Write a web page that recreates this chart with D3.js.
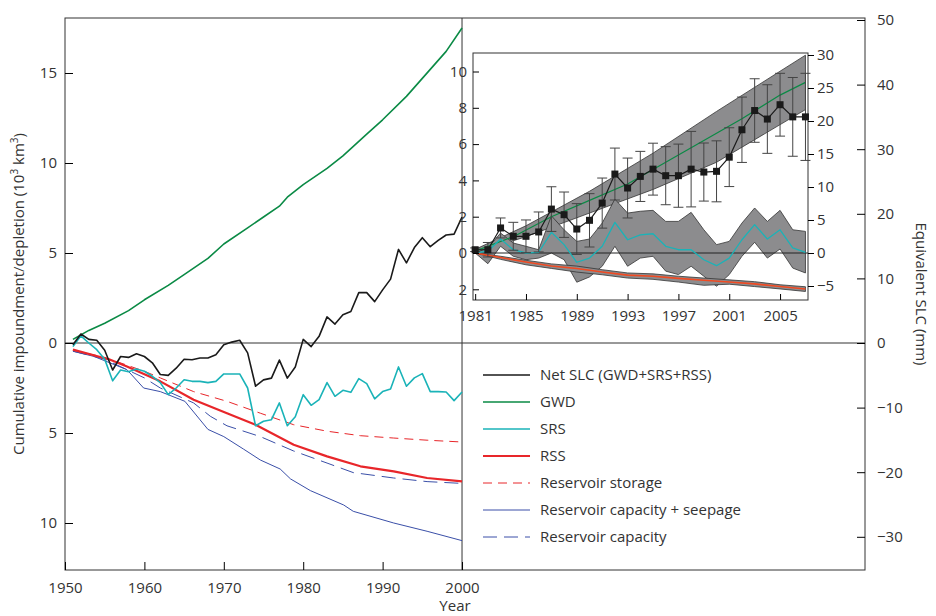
<!DOCTYPE html>
<html><head><meta charset="utf-8">
<script src="https://cdn.jsdelivr.net/npm/d3@7"></script>
<style>body{margin:0;background:#fff}text{font-family:"Open Sans",sans-serif;fill:#333}</style>
</head><body><svg id="c" width="936" height="616"></svg>
<script>
// ---------- DATA ----------
const years = d3.range(1951, 2001);
const netSLC = [-0.1,0.5,0.2,0.15,-0.4,-1.5,-0.75,-0.8,-0.6,-0.75,-1.1,-1.75,-1.8,-1.4,-0.9,-0.93,-0.83,-0.83,-0.65,-0.1,0.05,0.15,-0.55,-2.4,-2.05,-1.95,-0.95,-1.95,-1.33,0.2,-0.2,0.37,1.45,1.05,1.57,1.75,2.8,2.8,2.3,2.95,3.55,5.2,4.45,5.3,5.85,5.35,5.7,6.0,6.05,7.0];
const srs = [-0.2,0.4,0,-0.37,-0.9,-2.1,-1.5,-1.6,-1.45,-1.57,-1.85,-2.2,-2.87,-2.5,-2.04,-2.13,-2.13,-2.2,-2.13,-1.72,-1.72,-1.72,-2.5,-4.6,-4.35,-4.26,-3.33,-4.6,-4.1,-2.87,-3.46,-3.15,-2.2,-2.96,-2.63,-2.74,-1.98,-2.26,-3.1,-2.7,-2.55,-1.33,-2.4,-1.94,-1.7,-2.7,-2.7,-2.72,-3.2,-2.72];
const gwdYears = [1951,1953,1955,1958,1960,1963,1965,1968,1970,1973,1975,1977,1978,1980,1983,1985,1988,1990,1993,1995,1998,2000];
const gwd = [0.2,0.7,1.1,1.8,2.4,3.2,3.8,4.7,5.5,6.4,7.0,7.6,8.1,8.8,9.7,10.4,11.6,12.4,13.7,14.7,16.2,17.5];
const rssYears = [1951,1955.7,1957.8,1962,1966.2,1970.4,1974,1978.8,1983,1987.2,1991.4,1995.6,2000];
const rss = [-0.37,-0.93,-1.3,-2.13,-3.15,-3.9,-4.54,-5.65,-6.3,-6.85,-7.13,-7.5,-7.69];
const storageYears = [1951,1955,1960,1962,1966.2,1970.4,1974.6,1978.8,1983,1987.2,1991.4,1995.6,2000];
const resStorage = [-0.4,-0.8,-1.57,-1.94,-2.7,-3.24,-3.9,-4.54,-4.9,-5.15,-5.28,-5.4,-5.5];
const capYears = [1951,1955,1960,1962,1966.2,1968.3,1970.4,1974.6,1978.8,1983,1986.3,1991.4,1995.6,2000];
const resCapacity = [-0.45,-0.9,-1.94,-2.5,-3.33,-4.07,-4.6,-5.2,-6.0,-6.67,-7.2,-7.5,-7.7,-7.8];
const seepYears = [1951,1953.6,1957.8,1959.9,1962,1965.1,1968,1970,1972.5,1974.6,1977.1,1978.4,1980.9,1985.1,1986.3,1991.4,1995.6,2000];
const resCapSeep = [-0.46,-0.74,-1.48,-2.5,-2.7,-3.24,-4.8,-5.2,-5.9,-6.5,-7.0,-7.55,-8.2,-9.0,-9.35,-10.0,-10.46,-10.98];

const insetYears = d3.range(1981, 2008);
const insetNet = [0.18,0.18,1.38,0.92,0.92,1.16,2.42,2.11,1.32,1.8,2.75,4.35,3.58,4.22,4.62,4.26,4.26,4.62,4.46,4.5,5.28,6.79,7.85,7.38,8.17,7.5,7.5];
const insetErr = [0.1,0.4,0.55,0.77,0.9,1.1,1.23,1.25,1.4,1.47,1.38,1.43,1.65,1.38,1.43,1.6,1.74,2.08,1.6,1.68,1.62,1.8,1.75,1.89,1.73,2.17,2.4];
const insetSrs = [0,0.1,0.77,0.18,0,0.04,1.14,0.46,-0.51,-0.28,0.37,1.69,0.73,1.0,1.06,0.37,0.18,0.18,-0.37,-0.7,-0.28,0.73,1.56,0.77,1.28,0.28,0.04];
const insetSrsHi = [0,0.28,1.1,0.55,0.37,0.18,2.05,1.28,0.64,0.77,1.65,2.97,2.2,2.3,2.35,1.74,1.74,2.24,1.28,0.46,0.64,1.65,2.48,1.74,2.35,1.28,1.19];
const insetSrsLo = [0,-0.59,0.37,-0.18,-0.37,-0.28,0,-0.37,-1.61,-1.32,-0.73,0.37,-0.73,-0.28,-0.18,-1.0,-1.19,-0.73,-1.28,-1.83,-1.19,-0.18,0.59,-0.28,0.22,-0.83,-1.1];
const insetGwdYears = [1981,1984,1987,1990,1993,1996,1999,2002,2005,2007];
const insetGwd = [0.1,0.9,2.0,2.9,3.8,5.0,6.2,7.4,8.7,9.4];
const insetGwdBandYears = [1981,1985,1990,1995,2000,2007];
const insetGwdHi = [0.2,1.5,3.4,5.5,7.8,10.9];
const insetGwdLo = [0.0,0.9,2.2,3.5,5.0,7.9];
const insetRssYears = [1981,1983,1985,1987,1989,1991,1993,1995,1997,1999,2001,2003,2005,2007];
const insetRss = [0,-0.25,-0.5,-0.72,-0.85,-1.05,-1.22,-1.28,-1.4,-1.5,-1.6,-1.7,-1.85,-1.98];
const insetRssHi = [0,-0.18,-0.4,-0.6,-0.72,-0.92,-1.1,-1.15,-1.28,-1.38,-1.48,-1.58,-1.75,-1.86];
const insetRssLo = [0,-0.35,-0.65,-0.85,-1.05,-1.2,-1.38,-1.45,-1.6,-1.78,-1.72,-1.85,-1.98,-2.12];

const leftTicks = [15,10,5,0,-5,-10];
const rightTicks = [50,40,30,20,10,0,-10,-20,-30];
const xTicks = [1950,1960,1970,1980,1990,2000];
const insetLeftTicks = [10,8,6,4,2,0,-2];
const insetRightTicks = [30,25,20,15,10,5,0,-5];
const insetXTicks = [1981,1985,1989,1993,1997,2001,2005];
const legendItems = [
 {label:"Net SLC (GWD+SRS+RSS)", color:"#1a1a1a", w:1.6, dash:null},
 {label:"GWD", color:"#0a8a45", w:1.6, dash:null},
 {label:"SRS", color:"#1ab3b8", w:1.6, dash:null},
 {label:"RSS", color:"#e8262a", w:2.2, dash:null},
 {label:"Reservoir storage", color:"#e8262a", w:1, dash:"9,6"},
 {label:"Reservoir capacity + seepage", color:"#3a4fa8", w:1, dash:null},
 {label:"Reservoir capacity", color:"#3a4fa8", w:1, dash:"14,7"}];

// ---------- CHART ----------
const svg = d3.select("#c");
const L=65,R=865,T=18,B=570;
const x = d3.scaleLinear().domain([1950,2050.75]).range([L,R]);
const y = d3.scaleLinear().domain([0,15]).range([343,73]);
const yR = d3.scaleLinear().domain([0,50]).range([343,20]);
const ax = g=>g.selectAll("text").style("font-size","15px").style("fill","#333");

svg.append("rect").attr("x",L).attr("y",T).attr("width",R-L).attr("height",B-T).attr("fill","none").attr("stroke","#333").attr("stroke-width",1);
svg.append("line").attr("x1",L).attr("x2",R).attr("y1",y(0)).attr("y2",y(0)).attr("stroke","#333");
svg.append("line").attr("x1",x(2000)).attr("x2",x(2000)).attr("y1",T).attr("y2",B).attr("stroke","#333");

const gl=svg.append("g").attr("transform",`translate(${L},0)`).call(d3.axisRight(y).tickValues(leftTicks).tickSize(8).tickFormat(d=>Math.abs(d)));
gl.select(".domain").remove(); gl.selectAll("text").attr("x",-8).attr("text-anchor","end"); ax(gl);
const gr=svg.append("g").attr("transform",`translate(${R},0)`).call(d3.axisLeft(yR).tickValues(rightTicks).tickSize(8).tickFormat(d=>d<0?"−"+(-d):d));
gr.select(".domain").remove(); gr.selectAll("text").attr("x",12).attr("text-anchor","start"); ax(gr);
const gx=svg.append("g").attr("transform",`translate(0,${B})`).call(d3.axisTop(x).tickValues(xTicks).tickSize(8).tickFormat(d3.format("d")));
gx.select(".domain").remove(); gx.selectAll("text").attr("y",18).attr("dy","0.32em"); ax(gx);

svg.append("text").attr("transform","translate(24,294) rotate(-90)").attr("text-anchor","middle").style("font-size","15px").html("Cumulative impoundment/depletion (10<tspan dy='-6' font-size='10'>3</tspan><tspan dy='6'> km</tspan><tspan dy='-6' font-size='10'>3</tspan><tspan dy='6'>)</tspan>");
svg.append("text").attr("transform","translate(916,294) rotate(90)").attr("text-anchor","middle").style("font-size","15px").text("Equivalent SLC (mm)");
svg.append("text").attr("x",455).attr("y",611).attr("text-anchor","middle").style("font-size","15px").text("Year");

const line=(xs,ys,sx,sy)=>d3.line().x((d,i)=>sx(xs[i])).y(d=>sy(d))(ys);
const draw=(xs,ys,c,w,dash,sx=x,sy=y)=>svg.append("path").attr("d",line(xs,ys,sx,sy)).attr("fill","none").attr("stroke",c).attr("stroke-width",w).attr("stroke-dasharray",dash).attr("stroke-linejoin","round");
draw(seepYears,resCapSeep,"#3a4fa8",1,null);
draw(capYears,resCapacity,"#3a4fa8",1,"14,7");
draw(storageYears,resStorage,"#e8262a",1,"9,6");
draw(rssYears,rss,"#e8262a",2.2,null);
draw(years,srs,"#1ab3b8",1.6,null);
draw(gwdYears,gwd,"#0a8a45",1.6,null);
draw(years,netSLC,"#1a1a1a",1.6,null);

// legend
const lg=svg.append("g");
legendItems.forEach((d,i)=>{
  const yy=375+i*27;
  lg.append("line").attr("x1",483).attr("x2",530).attr("y1",yy).attr("y2",yy).attr("stroke",d.color).attr("stroke-width",d.w).attr("stroke-dasharray",d.dash);
  lg.append("text").attr("x",540).attr("y",yy).attr("dy","0.35em").style("font-size","15px").text(d.label);
});

// ---------- INSET ----------
const iL=473,iR=808,iT=53,iB=300;
const ix=d3.scaleLinear().domain([1980.83,2007.2]).range([iL,iR]);
const iy=d3.scaleLinear().domain([0,10]).range([253,71.5]);
const iyR=d3.scaleLinear().domain([0,30]).range([253,55]);
svg.append("rect").attr("x",iL).attr("y",iT).attr("width",iR-iL).attr("height",iB-iT).attr("fill","#fff").attr("stroke","#333");
const area=(xs,hi,lo)=>d3.area().x((d,i)=>ix(xs[i])).y0((d,i)=>iy(lo[i])).y1(d=>iy(d))(hi);
const band=(xs,hi,lo)=>svg.append("path").attr("d",area(xs,hi,lo)).attr("fill","#8c8c8e").attr("stroke","#333").attr("stroke-width",0.8);
band(insetGwdBandYears,insetGwdHi,insetGwdLo);
band(insetYears,insetSrsHi,insetSrsLo);
band(insetRssYears,insetRssHi,insetRssLo);
svg.append("line").attr("x1",iL).attr("x2",iR).attr("y1",iy(0)).attr("y2",iy(0)).attr("stroke","#222");
draw(insetGwdYears,insetGwd,"#0a8a45",1.2,null,ix,iy);
draw(insetYears,insetSrs,"#1ab3b8",1.3,null,ix,iy);
draw(insetRssYears,insetRss,"#f04a22",1.6,null,ix,iy);
const eb=svg.append("g").attr("stroke","#444").attr("stroke-width",1);
insetYears.forEach((yr,i)=>{
  const cx=ix(yr),v=insetNet[i],e=insetErr[i];
  eb.append("line").attr("x1",cx).attr("x2",cx).attr("y1",iy(v-e)).attr("y2",iy(v+e));
  [v-e,v+e].forEach(t=>eb.append("line").attr("x1",cx-5).attr("x2",cx+5).attr("y1",iy(t)).attr("y2",iy(t)));
});
draw(insetYears,insetNet,"#1a1a1a",1.2,null,ix,iy);
svg.append("g").selectAll("rect").data(insetNet).join("rect").attr("x",(d,i)=>ix(insetYears[i])-3.5).attr("y",d=>iy(d)-3.5).attr("width",7).attr("height",7).attr("fill","#1a1a1a");

const il=svg.append("g").attr("transform",`translate(${iL},0)`).call(d3.axisRight(iy).tickValues(insetLeftTicks).tickSize(6).tickFormat(d=>Math.abs(d)));
il.select(".domain").remove(); il.selectAll("text").attr("x",-6).attr("text-anchor","end"); ax(il);
const ir=svg.append("g").attr("transform",`translate(${iR},0)`).call(d3.axisRight(iyR).tickValues(insetRightTicks).tickSize(6).tickFormat(d=>d<0?"−"+(-d):d));
ir.select(".domain").remove(); ir.selectAll("text").attr("x",9); ax(ir);
const ixa=svg.append("g").attr("transform",`translate(0,${iB})`).call(d3.axisTop(ix).tickValues(insetXTicks).tickSize(6).tickFormat(d3.format("d")));
ixa.select(".domain").remove(); ixa.selectAll("text").attr("y",16).attr("dy","0.32em"); ax(ixa);
</script></body></html>
